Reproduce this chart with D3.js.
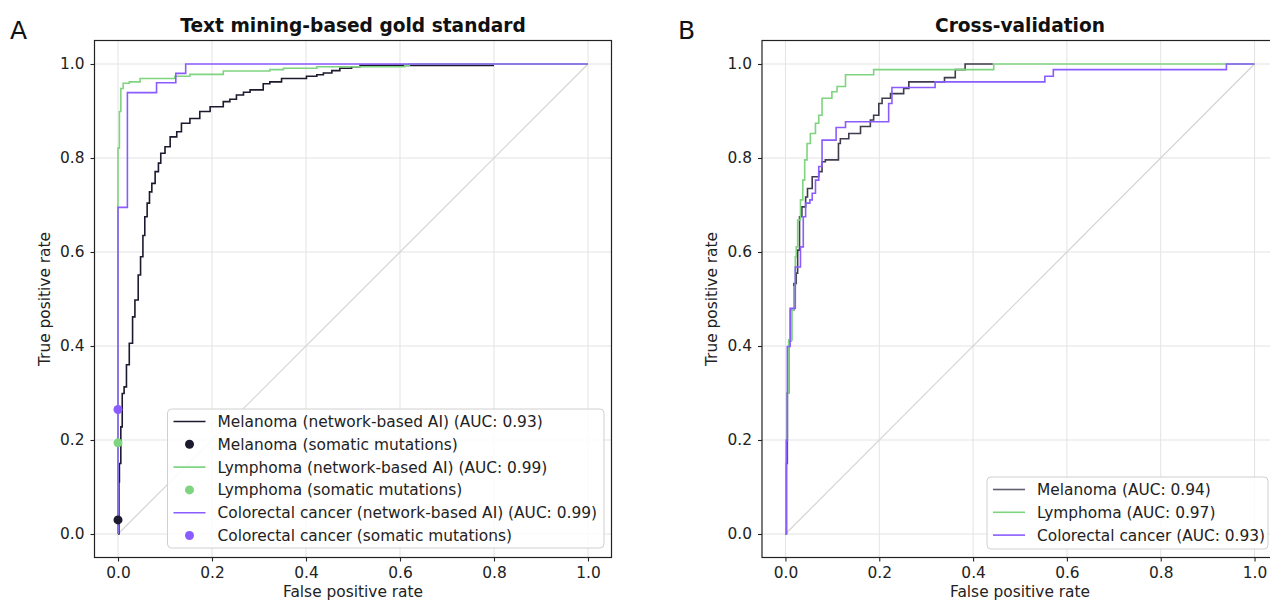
<!DOCTYPE html>
<html>
<head>
<meta charset="utf-8">
<script src="https://cdn.jsdelivr.net/npm/d3@7"></script>
<style>
  html, body { margin: 0; padding: 0; background: #fff; }
  svg { display: block; font-family: "DejaVu Sans", sans-serif; }
</style>
</head>
<body>
<svg id="chart" width="1270" height="602"></svg>
<script>
// ---------- DATA ----------
const tickValues = [0, 0.2, 0.4, 0.6, 0.8, 1.0];

const titleA = "Text mining-based gold standard";
const titleB = "Cross-validation";

const melanomaA = [[0,0],[0.002,0.111],[0.003,0.150],[0.006,0.228],[0.009,0.299],[0.013,0.313],[0.018,0.360],[0.024,0.406],[0.031,0.462],[0.036,0.498],[0.043,0.551],[0.048,0.590],[0.053,0.635],[0.057,0.675],[0.062,0.704],[0.067,0.728],[0.072,0.746],[0.079,0.771],[0.086,0.789],[0.091,0.810],[0.100,0.824],[0.111,0.845],[0.125,0.856],[0.135,0.874],[0.153,0.884],[0.174,0.899],[0.196,0.909],[0.224,0.920],[0.238,0.925],[0.252,0.934],[0.267,0.940],[0.281,0.945],[0.309,0.958],[0.323,0.962],[0.348,0.969],[0.401,0.974],[0.423,0.977],[0.437,0.981],[0.455,0.986],[0.472,0.991],[0.497,0.994],[0.515,0.997],[0.80,0.997]];
const lymphomaA = [[0,0],[0,0.821],[0.003,0.899],[0.006,0.948],[0.011,0.959],[0.024,0.962],[0.047,0.969],[0.121,0.974],[0.153,0.978],[0.224,0.985],[0.323,0.988],[0.352,0.991],[0.423,0.994],[0.61,0.997],[0.62,1.0],[1,1]];
const colorectalA = [[0,0],[0,0.695],[0.020,0.939],[0.082,0.960],[0.123,0.980],[0.144,1.0],[1,1]];
// somatic mutations single points [fpr, tpr]
const melanomaDot = [0, 0.030];
const lymphomaDot = [0, 0.194];
const colorectalDot = [0, 0.265];

const melanomaB = [[0,0],[0.002,0.15],[0.004,0.30],[0.007,0.41],[0.011,0.477],[0.018,0.533],[0.023,0.555],[0.026,0.604],[0.030,0.675],[0.035,0.696],[0.043,0.717],[0.047,0.735],[0.057,0.760],[0.071,0.771],[0.078,0.792],[0.085,0.796],[0.113,0.831],[0.117,0.841],[0.135,0.852],[0.160,0.867],[0.181,0.881],[0.188,0.891],[0.199,0.916],[0.206,0.927],[0.224,0.937],[0.252,0.948],[0.263,0.962],[0.339,0.971],[0.362,0.988],[0.383,1.0],[0.442,1.0]];
const lymphomaB = [[0,0],[0.002,0.20],[0.004,0.30],[0.007,0.413],[0.014,0.477],[0.018,0.526],[0.021,0.590],[0.023,0.611],[0.026,0.668],[0.032,0.711],[0.037,0.753],[0.041,0.796],[0.046,0.831],[0.053,0.852],[0.064,0.874],[0.071,0.891],[0.078,0.927],[0.099,0.941],[0.110,0.952],[0.128,0.977],[0.188,0.988],[0.444,1.0],[1,1]];
const colorectalB = [[0,0],[0.002,0.20],[0.004,0.399],[0.010,0.48],[0.021,0.568],[0.032,0.611],[0.038,0.675],[0.043,0.704],[0.052,0.711],[0.057,0.725],[0.064,0.753],[0.071,0.782],[0.078,0.838],[0.108,0.865],[0.128,0.877],[0.220,0.916],[0.227,0.950],[0.319,0.962],[0.553,0.974],[0.571,0.988],[0.940,1.0],[1,1]];

const legendA = [
  {label: "Melanoma (network-based AI) (AUC: 0.93)", type: "line", key: "mel"},
  {label: "Melanoma (somatic mutations)", type: "dot", key: "mel"},
  {label: "Lymphoma (network-based AI) (AUC: 0.99)", type: "line", key: "lym"},
  {label: "Lymphoma (somatic mutations)", type: "dot", key: "lym"},
  {label: "Colorectal cancer (network-based AI) (AUC: 0.99)", type: "line", key: "col"},
  {label: "Colorectal cancer (somatic mutations)", type: "dot", key: "col"}
];
const legendB = [
  {label: "Melanoma (AUC: 0.94)", type: "line", key: "mel"},
  {label: "Lymphoma (AUC: 0.97)", type: "line", key: "lym"},
  {label: "Colorectal cancer (AUC: 0.93)", type: "line", key: "col"}
];

const colors = {mel: "#1c1a2e", lym: "#7fd47f", col: "#8a5cff"};

// ---------- DRAW ----------
const svg = d3.select("#chart");
const FS = "15.4px";

function panel(cfg) {
  const x = d3.scaleLinear().domain([-0.05, 1.05]).range([cfg.left, cfg.left + cfg.w]);
  const y = d3.scaleLinear().domain([-0.05, 1.05]).range([cfg.top + cfg.h, cfg.top]);
  const g = svg.append("g");

  // grid
  g.append("g").selectAll("line.gx").data(tickValues).join("line")
    .attr("x1", d => x(d)).attr("x2", d => x(d))
    .attr("y1", cfg.top).attr("y2", cfg.top + cfg.h)
    .attr("stroke", "#e3e3e3").attr("stroke-width", 1);
  g.append("g").selectAll("line.gy").data(tickValues).join("line")
    .attr("y1", d => y(d)).attr("y2", d => y(d))
    .attr("x1", cfg.left).attr("x2", cfg.left + cfg.w)
    .attr("stroke", "#e3e3e3").attr("stroke-width", 1);

  // diagonal
  g.append("line")
    .attr("x1", x(0)).attr("y1", y(0)).attr("x2", x(1)).attr("y2", y(1))
    .attr("stroke", "#d4d4d4").attr("stroke-width", 1.2);

  const line = d3.line().x(d => x(d[0])).y(d => y(d[1])).curve(d3.curveStepAfter);
  cfg.series.forEach(s => {
    g.append("path").datum(s.data)
      .attr("d", line)
      .attr("fill", "none")
      .attr("stroke", colors[s.key])
      .attr("stroke-opacity", s.opacity || 1)
      .attr("stroke-width", 1.6);
  });
  (cfg.dots || []).forEach(dd => {
    g.append("circle").attr("cx", x(dd.p[0])).attr("cy", y(dd.p[1])).attr("r", 4.5)
      .attr("fill", colors[dd.key]);
  });

  // spines
  g.append("rect")
    .attr("x", cfg.left).attr("y", cfg.top).attr("width", cfg.w).attr("height", cfg.h)
    .attr("fill", "none").attr("stroke", "#222").attr("stroke-width", 1.2);

  // axes
  const xa = g.append("g").attr("transform", `translate(0,${cfg.top + cfg.h})`)
    .call(d3.axisBottom(x).tickValues(tickValues).tickFormat(d3.format(".1f")).tickSize(4).tickPadding(6));
  const ya = g.append("g").attr("transform", `translate(${cfg.left},0)`)
    .call(d3.axisLeft(y).tickValues(tickValues).tickFormat(d3.format(".1f")).tickSize(4).tickPadding(6));
  [xa, ya].forEach(a => {
    a.select(".domain").remove();
    a.selectAll(".tick line").attr("stroke", "#222").attr("stroke-width", 1.1);
    a.selectAll(".tick text").attr("fill", "#222").style("font-size", FS).style("font-family", "DejaVu Sans");
  });

  // labels
  g.append("text").attr("x", cfg.left + cfg.w / 2).attr("y", 597)
    .attr("text-anchor", "middle").attr("fill", "#222").style("font-size", FS)
    .text("False positive rate");
  g.append("text")
    .attr("transform", `translate(${cfg.left - 45},${cfg.top + cfg.h / 2}) rotate(-90)`)
    .attr("text-anchor", "middle").attr("fill", "#222").style("font-size", FS)
    .text("True positive rate");
  g.append("text").attr("x", cfg.left + cfg.w / 2).attr("y", 32)
    .attr("text-anchor", "middle").attr("fill", "#111").style("font-size", "18.6px").style("font-weight", "bold")
    .text(cfg.title);
  g.append("text").attr("x", cfg.letterX).attr("y", 39)
    .attr("fill", "#111").style("font-size", "25px")
    .text(cfg.letter);

  // legend
  const L = cfg.legend;
  const lg = g.append("g");
  lg.append("rect").attr("x", L.x).attr("y", L.y).attr("width", L.w).attr("height", L.h)
    .attr("rx", 4).attr("fill", "#fff").attr("fill-opacity", 0.85)
    .attr("stroke", "#d0d0d0").attr("stroke-width", 1);
  L.items.forEach((it, i) => {
    const cy = L.y + 12.5 + i * 22.8;
    if (it.type === "line") {
      lg.append("line").attr("x1", L.x + 6).attr("x2", L.x + 38).attr("y1", cy).attr("y2", cy)
        .attr("stroke", colors[it.key]).attr("stroke-width", 1.6)
        .attr("stroke-opacity", (L.opacity && L.opacity[it.key]) || 1);
    } else {
      lg.append("circle").attr("cx", L.x + 22).attr("cy", cy).attr("r", 4.5).attr("fill", colors[it.key]);
    }
    lg.append("text").attr("x", L.x + 50).attr("y", cy + 5.5)
      .attr("fill", "#222").style("font-size", FS).text(it.label);
  });
}

panel({
  left: 94.5, top: 40.5, w: 517, h: 517,
  title: titleA, letter: "A", letterX: 10,
  series: [
    {data: melanomaA, key: "mel"},
    {data: lymphomaA, key: "lym"},
    {data: colorectalA, key: "col"}
  ],
  dots: [
    {p: melanomaDot, key: "mel"},
    {p: lymphomaDot, key: "lym"},
    {p: colorectalDot, key: "col"}
  ],
  legend: {x: 167.5, y: 409, w: 436.5, h: 139, items: legendA}
});

panel({
  left: 762, top: 40.5, w: 516, h: 517,
  title: titleB, letter: "B", letterX: 678,
  series: [
    {data: melanomaB, key: "mel", opacity: 0.85},
    {data: lymphomaB, key: "lym"},
    {data: colorectalB, key: "col"}
  ],
  legend: {x: 987, y: 477, w: 281, h: 72, items: legendB, opacity: {mel: 0.7}}
});
</script>
</body>
</html>
